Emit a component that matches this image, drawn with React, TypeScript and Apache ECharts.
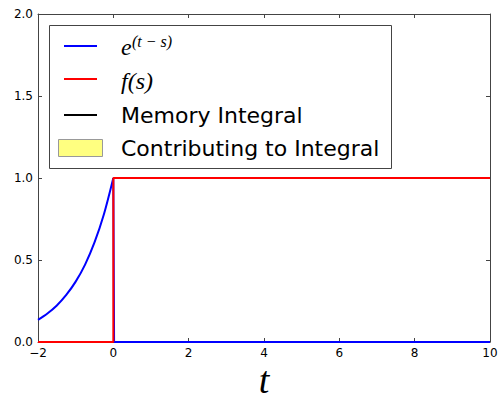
import React, { useEffect, useRef } from "react";
import * as echarts from "echarts";

// Exponential kernel e^(t - s) over the past, s in [-2, 0]
const kernelS = [-2, -1.75, -1.5, -1.25, -1, -0.75, -0.5, -0.25, 0];
const kernelVals = [0.135, 0.174, 0.223, 0.287, 0.368, 0.472, 0.607, 0.779, 1.0];
// Kernel after the present time: drops to zero
const kernelTailS = [0, 0.02, 10];
const kernelTailVals = [1, 0, 0];
// Step forcing f(s)
const forcingS = [-2, 0, 0, 10];
const forcingVals = [0, 0, 1, 1];
// Memory integral (zero at t = 0)
const memoryS = [-2, 10];
const memoryVals = [0, 0];

const xTicks = { min: -2, max: 10, step: 2 };
const yTicks = { min: 0, max: 2, step: 0.5 };

const legendLabels = {
  kernelBase: "e",
  kernelExp: "(t − s)",
  forcing: "f(s)",
  memory: "Memory Integral",
  contrib: "Contributing to Integral",
};
const xAxisTitle = "t";

const pairs = (xs: number[], ys: number[]) => xs.map((x, i) => [x, ys[i]]);

const frame = "#444";
const serif = "'Liberation Serif', 'DejaVu Serif', serif";
const sans = "'DejaVu Sans', sans-serif";

export default function App() {
  const ref = useRef<HTMLDivElement>(null);

  useEffect(() => {
    if (!ref.current) return;
    const chart = echarts.init(ref.current, null, { renderer: "svg" });

    const baseX = {
      type: "value" as const,
      min: xTicks.min,
      max: xTicks.max,
      interval: xTicks.step,
      splitLine: { show: false },
      axisLine: { show: true, onZero: false, lineStyle: { color: frame, width: 1 } },
      axisTick: { show: true, inside: true, length: 4, lineStyle: { color: frame } },
    };
    const baseY = {
      type: "value" as const,
      min: yTicks.min,
      max: yTicks.max,
      interval: yTicks.step,
      splitLine: { show: false },
      axisLine: { show: true, onZero: false, lineStyle: { color: frame, width: 1 } },
      axisTick: { show: true, inside: true, length: 4, lineStyle: { color: frame } },
    };

    const legendX = 64;
    const textX = 121;
    const rows = [46, 79, 115, 148];

    chart.setOption({
      animation: false,
      backgroundColor: "#fff",
      grid: {
        left: 38,
        right: 10,
        top: 14,
        bottom: 58,
        containLabel: false,
        outerBoundsMode: "none",
      },
      xAxis: [
        {
          ...baseX,
          position: "bottom",
          axisLabel: {
            fontFamily: sans,
            fontSize: 12,
            color: "#000",
            margin: 5,
            formatter: (v: number) => (v < 0 ? "\u2212" + Math.abs(v) : String(v)),
          },
        },
        { ...baseX, position: "top", axisLabel: { show: false } },
      ],
      yAxis: [
        {
          ...baseY,
          position: "left",
          axisLabel: {
            fontFamily: sans,
            fontSize: 12,
            color: "#000",
            margin: 5,
            formatter: (v: number) => v.toFixed(1),
          },
        },
        { ...baseY, position: "right", axisLabel: { show: false } },
      ],
      series: [
        {
          name: legendLabels.memory,
          type: "line",
          data: pairs(memoryS, memoryVals),
          showSymbol: false,
          clip: false,
          lineStyle: { color: "#000", width: 2 },
          z: 2,
        },
        {
          name: "kernel",
          type: "line",
          data: pairs(kernelS, kernelVals),
          smooth: 0.3,
          showSymbol: false,
          clip: false,
          lineStyle: { color: "#0000ff", width: 2 },
          z: 3,
        },
        {
          name: "kernel-tail",
          type: "line",
          data: pairs(kernelTailS, kernelTailVals),
          showSymbol: false,
          clip: false,
          lineStyle: { color: "#0000ff", width: 2 },
          z: 3,
        },
        {
          name: "forcing",
          type: "line",
          data: pairs(forcingS, forcingVals),
          showSymbol: false,
          clip: false,
          lineStyle: { color: "#ff0000", width: 2 },
          z: 4,
        },
      ],
      graphic: [
        {
          type: "text",
          x: 264,
          y: 399,
          style: {
            text: xAxisTitle,
            font: `italic 38px ${serif}`,
            fill: "#000",
            textAlign: "center",
            textVerticalAlign: "bottom",
          },
        },
        {
          type: "rect",
          shape: { x: 49.5, y: 25.5, width: 342, height: 143 },
          style: { fill: "#fff", stroke: frame, lineWidth: 1 },
          z: 10,
        },
        {
          type: "line",
          shape: { x1: legendX, y1: rows[0], x2: legendX + 33, y2: rows[0] },
          style: { stroke: "#0000ff", lineWidth: 2 },
          z: 11,
        },
        {
          type: "line",
          shape: { x1: legendX, y1: rows[1], x2: legendX + 33, y2: rows[1] },
          style: { stroke: "#ff0000", lineWidth: 2 },
          z: 11,
        },
        {
          type: "line",
          shape: { x1: legendX, y1: rows[2], x2: legendX + 33, y2: rows[2] },
          style: { stroke: "#000", lineWidth: 2 },
          z: 11,
        },
        {
          type: "rect",
          shape: { x: 58.5, y: rows[3] - 8.5, width: 44, height: 17 },
          style: { fill: "#ffff80", stroke: "#999", lineWidth: 1 },
          z: 11,
        },
        {
          type: "text",
          x: textX,
          y: rows[0] + 1,
          style: {
            text: legendLabels.kernelBase,
            font: `italic 24px ${serif}`,
            fill: "#000",
            textVerticalAlign: "middle",
          },
          z: 11,
        },
        {
          type: "text",
          x: textX + 11,
          y: rows[0] - 5,
          style: {
            text: legendLabels.kernelExp,
            font: `italic 16px ${serif}`,
            fill: "#000",
            textVerticalAlign: "middle",
          },
          z: 11,
        },
        {
          type: "text",
          x: textX,
          y: rows[1] + 2,
          style: {
            text: legendLabels.forcing,
            font: `italic 24px ${serif}`,
            fill: "#000",
            textVerticalAlign: "middle",
          },
          z: 11,
        },
        {
          type: "text",
          x: textX,
          y: rows[2],
          style: {
            text: legendLabels.memory,
            font: `22px ${sans}`,
            fill: "#000",
            textVerticalAlign: "middle",
          },
          z: 11,
        },
        {
          type: "text",
          x: textX,
          y: rows[3],
          style: {
            text: legendLabels.contrib,
            font: `22px ${sans}`,
            fill: "#000",
            textVerticalAlign: "middle",
          },
          z: 11,
        },
      ],
    });

    return () => chart.dispose();
  }, []);

  return (
    <div
      ref={ref}
      style={{ position: "fixed", left: 0, top: 0, width: 500, height: 400 }}
    />
  );
}
